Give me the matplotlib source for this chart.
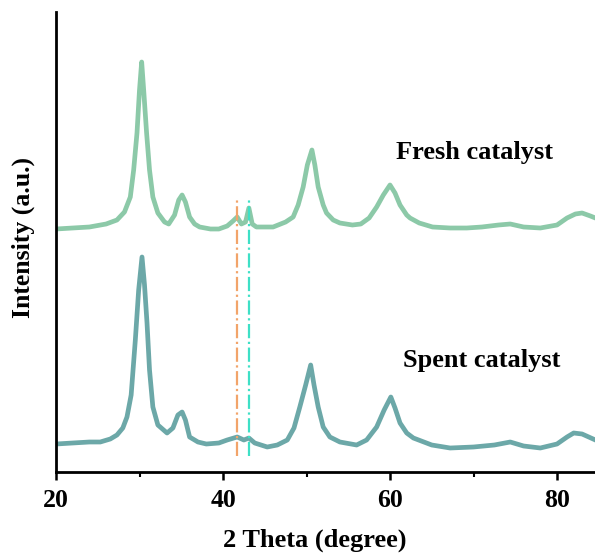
import numpy as np
import matplotlib
matplotlib.use("Agg")
import matplotlib.pyplot as plt
from matplotlib.ticker import MultipleLocator

plt.rcParams['font.family'] = ['Liberation Serif', 'DejaVu Serif']
plt.rcParams['font.weight'] = 'bold'

# 2 theta / intensity (arbitrary units)
fresh_2theta = [20.0, 22, 24, 26, 27.3, 28.2, 28.9, 29.3, 29.7, 30.0, 30.26, 30.5, 30.85,
                31.2, 31.6, 32.2, 33.0, 33.5, 34.2, 34.7, 35.1, 35.5, 36.0, 36.6, 37.2,
                38.5, 39.5, 40.5, 41.2, 41.7, 42.2, 42.7, 43.1, 43.5, 44.0, 46.0, 47.5,
                48.4, 49.0, 49.6, 50.1, 50.65, 51.0, 51.4, 52.0, 52.4, 53.2, 54.0, 55.5,
                56.5, 57.5, 58.4, 59.2, 60.0, 60.6, 61.2, 62.0, 62.4, 63.5, 65.1, 67.2,
                69.2, 71, 73, 74.4, 76, 78, 80, 81.2, 82.2, 83, 84.0, 84.6]
fresh_int = [243, 244, 245, 248, 252, 260, 275, 302, 339, 382, 410, 382, 339,
             302, 275, 259, 250, 248, 257, 272, 277, 270, 255, 248, 245,
             243, 243, 246, 251, 255, 248, 250, 264, 248, 245, 245, 250,
             255, 267, 285, 307, 322, 307, 285, 267, 259, 252, 249, 247,
             248, 254, 265, 277, 287, 279, 267, 257, 254, 249, 245, 244,
             244, 245, 247, 248, 245, 244, 247, 254, 258, 259, 256, 254]

spent_2theta = [20.0, 22, 24, 25.3, 26.5, 27.3, 28.0, 28.5, 29.0, 29.5, 29.9, 30.3, 30.6,
                30.9, 31.2, 31.6, 32.2, 33.3, 34.0, 34.6, 35.1, 35.5, 36.0, 37.0, 38.0,
                39.5, 40.5, 41.7, 42.5, 43.1, 43.8, 45.3, 46.5, 47.7, 48.5, 49.2, 49.9,
                50.5, 50.9, 51.4, 52.0, 52.8, 54.0, 56.0, 57.2, 58.4, 59.3, 60.1, 60.6,
                61.2, 62.0, 62.8, 65, 67.2, 70, 72.5, 74.4, 76, 78, 80, 81.2, 82.0, 83, 84.6]
spent_int = [28, 29, 30, 30, 33, 37, 44, 55, 77, 132, 182, 215, 187,
             149, 102, 65, 47, 39, 44, 57, 60, 52, 35, 30, 28,
             29, 32, 35, 32, 34, 29, 25, 27, 32, 44, 65, 87,
             107, 87, 65, 45, 35, 30, 27, 32, 45, 62, 75, 64,
             49, 39, 34, 27, 24, 25, 27, 30, 26, 24, 28, 35, 39, 38, 32]

ref_lines = [41.7, 43.1]
ref_colors = ['#F2A46A', '#3EE0C6']

fig = plt.figure(figsize=(5.95, 5.59), dpi=100)
ax = fig.add_axes([56 / 595, 1 - 472 / 559, 1 - 56 / 595, (472 - 12) / 559])

ax.plot(fresh_2theta, fresh_int, color='#8CC9A8', lw=3.4)
ax.plot(spent_2theta, spent_int, color='#6CA8A8', lw=3.4)
for xv, c in zip(ref_lines, ref_colors):
    ax.vlines(xv, 16, 275, colors=c, linestyles='-.', lw=1.6)

ax.text(70.1, 320, 'Fresh catalyst', fontsize=19, fontweight='bold', ha='center', va='center')
ax.text(71.0, 112, 'Spent catalyst', fontsize=19, fontweight='bold', ha='center', va='center')

ax.set_xlim(20, 84.55)
ax.set_ylim(0, 460)
ax.set_yticks([])
ax.xaxis.set_major_locator(MultipleLocator(20))
ax.xaxis.set_minor_locator(MultipleLocator(10))
ax.tick_params(axis='x', which='major', direction='out', length=6, width=1.8, labelsize=18.5, pad=6)
ax.tick_params(axis='x', which='minor', direction='out', length=3.5, width=1.5)
for lab in ax.get_xticklabels():
    lab.set_fontweight('bold')
for s in ['top', 'right']:
    ax.spines[s].set_visible(False)
for s in ['left', 'bottom']:
    ax.spines[s].set_linewidth(2)

fig.text(315 / 595, 1 - 540 / 559, '2 Theta (degree)', fontsize=19, fontweight='bold',
         ha='center', va='center')
fig.text(23 / 595, 1 - 237 / 559, 'Intensity (a.u.)', fontsize=18.5, fontweight='bold',
         ha='center', va='center', rotation=90)

fig.savefig('out.png', dpi=100)
